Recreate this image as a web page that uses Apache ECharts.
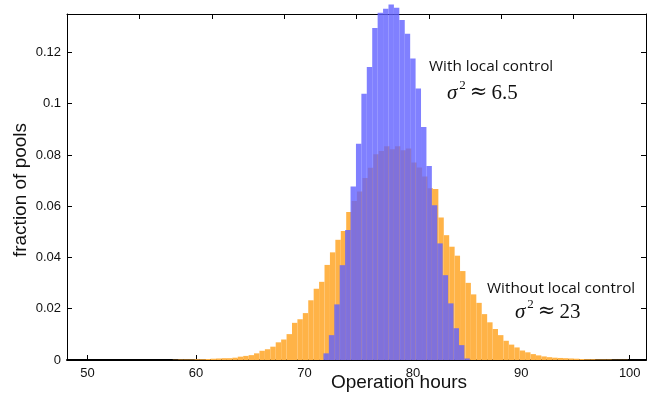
<!DOCTYPE html>
<html>
<head>
<meta charset="utf-8">
<script src="https://cdn.jsdelivr.net/npm/echarts@6/dist/echarts.min.js"></script>
<style>
html, body { margin: 0; padding: 0; background: #fff; }
#chart { width: 667px; height: 405px; }
</style>
</head>
<body>
<div id="chart"></div>
<script>
// histogram bins, width 0.5 hours
var binWidth = 0.5;

// without local control (orange), first bin edge
var withoutStart = 57.85;
var withoutLocal = [
    0.0001, 0.0002, 0.0002, 0.0002, 0.0003, 0.0003, 0.0004, 0.0005, 0.0006, 0.0007,
    0.0007, 0.0009, 0.0013, 0.0016, 0.0019, 0.0026, 0.0036, 0.0042, 0.0052, 0.0069,
    0.0080, 0.0101, 0.0145, 0.0159, 0.0183, 0.0233, 0.0278, 0.0305, 0.0371, 0.0420,
    0.0469, 0.0503, 0.0577, 0.0620, 0.0657, 0.0710, 0.0750, 0.0803, 0.0815, 0.0834,
    0.0822, 0.0834, 0.0818, 0.0825, 0.0771, 0.0751, 0.0716, 0.0670, 0.0667, 0.0556,
    0.0487, 0.0442, 0.0407, 0.0347, 0.0301, 0.0256, 0.0223, 0.0179, 0.0147, 0.0121,
    0.0097, 0.0075, 0.0060, 0.0049, 0.0037, 0.0030, 0.0023, 0.0018, 0.0014, 0.0011,
    0.0009, 0.0008, 0.0007, 0.0006, 0.0005, 0.0004, 0.0003, 0.0003, 0.0002, 0.0002,
    0.0002, 0.0001, 0.0001, 0.0001
];

// with local control (blue), first bin edge
var withStart = 71.75;
var withLocal = [
    0.0026, 0.0097, 0.0217, 0.0370, 0.0507, 0.0677, 0.0844, 0.1039, 0.1143, 0.1295,
    0.1355, 0.1370, 0.1387, 0.1374, 0.1327, 0.1273, 0.1176, 0.1059, 0.0909, 0.0757,
    0.0604, 0.0455, 0.0331, 0.0221, 0.0124, 0.0058, 0.0006
];

var xTicks = [50, 60, 70, 80, 90, 100];
var yTicks = [0, 0.02, 0.04, 0.06, 0.08, 0.1, 0.12];

function toBins(start, values) {
    return values.map(function (v, i) {
        var x0 = start + i * binWidth;
        return [x0, x0 + binWidth, v];
    });
}

function renderBar(params, api) {
    var a = api.coord([api.value(0), api.value(2)]);
    var b = api.coord([api.value(1), 0]);
    return {
        type: 'rect',
        shape: { x: a[0], y: a[1], width: b[0] - a[0], height: b[1] - a[1] },
        style: api.style()
    };
}

var labelFont = 'Liberation Sans';
var noteFont = 'Open Sans';
var mathFont = 'Liberation Serif';

function sigmaText(value) {
    return {
        text: '{s|σ}{p|2}{a|≈}{r|' + value + '}', align: 'left', verticalAlign: 'middle',
        rich: {
            s: { font: 'italic 21px "' + mathFont + '"', fill: '#111' },
            p: { font: '13px "' + mathFont + '"', fill: '#111', verticalAlign: 'top', padding: [0, 0, 14, 2] },
            a: { font: '21px "DejaVu Serif"', fill: '#111', padding: [0, 4, 0, 4] },
            r: { font: '21px "' + mathFont + '"', fill: '#111' }
        }
    };
}

var chart = echarts.init(document.getElementById('chart'));
chart.setOption({
    animation: false,
    backgroundColor: '#fff',
    grid: { left: 67, right: 21, top: 14, bottom: 45 },
    xAxis: [{
        type: 'value', min: 48.1, max: 101.5,
        axisLine: { show: true, lineStyle: { color: '#000', width: 2 } },
        axisTick: { inside: true, length: 5, customValues: xTicks, lineStyle: { color: '#000' } },
        axisLabel: { customValues: xTicks, margin: 7, color: '#111', fontSize: 13, fontFamily: labelFont },
        splitLine: { show: false }
    }, {
        type: 'value', min: 0, max: 8, interval: 1, position: 'top',
        axisLine: { show: true, onZero: false, lineStyle: { color: '#000', width: 1 } },
        axisTick: { inside: true, length: 5, lineStyle: { color: '#000' } },
        axisLabel: { show: false },
        splitLine: { show: false }
    }],
    yAxis: [{
        type: 'value', min: 0, max: 0.135,
        axisLine: { show: true, lineStyle: { color: '#000', width: 1 } },
        axisTick: { inside: true, length: 5, customValues: yTicks, lineStyle: { color: '#000' } },
        axisLabel: { customValues: yTicks, margin: 6, color: '#111', fontSize: 13, fontFamily: labelFont },
        splitLine: { show: false }
    }, {
        type: 'value', min: 0, max: 0.135, position: 'right',
        axisLine: { show: true, onZero: false, lineStyle: { color: '#000', width: 1 } },
        axisTick: { inside: true, length: 5, customValues: yTicks, lineStyle: { color: '#000' } },
        axisLabel: { show: false },
        splitLine: { show: false }
    }],
    series: [{
        name: 'Without local control',
        type: 'custom',
        renderItem: renderBar,
        clip: false,
        z: 2,
        itemStyle: { color: '#ffb347' },
        encode: { x: [0, 1], y: 2 },
        data: toBins(withoutStart, withoutLocal)
    }, {
        name: 'With local control',
        type: 'custom',
        renderItem: renderBar,
        clip: false,
        z: 3,
        itemStyle: { color: 'rgba(96,96,255,0.8)' },
        encode: { x: [0, 1], y: 2 },
        data: toBins(withStart, withLocal)
    }],
    graphic: [{
        type: 'text', x: 21, y: 190, rotation: Math.PI / 2,
        style: { text: 'fraction of pools', font: '19px "' + labelFont + '"', fill: '#111', align: 'center', verticalAlign: 'middle' }
    }, {
        type: 'text', x: 399, y: 383,
        style: { text: 'Operation hours', font: '19px "' + labelFont + '"', fill: '#111', align: 'center', verticalAlign: 'middle' }
    }, {
        type: 'text', x: 429, y: 67,
        style: { text: 'With local control', font: '15.3px "' + noteFont + '"', fill: '#111', align: 'left', verticalAlign: 'middle' }
    }, {
        type: 'text', x: 447, y: 93,
        style: sigmaText('6.5')
    }, {
        type: 'text', x: 487, y: 289,
        style: { text: 'Without local control', font: '15.3px "' + noteFont + '"', fill: '#111', align: 'left', verticalAlign: 'middle' }
    }, {
        type: 'text', x: 515, y: 312,
        style: sigmaText('23')
    }]
});
</script>
</body>
</html>
